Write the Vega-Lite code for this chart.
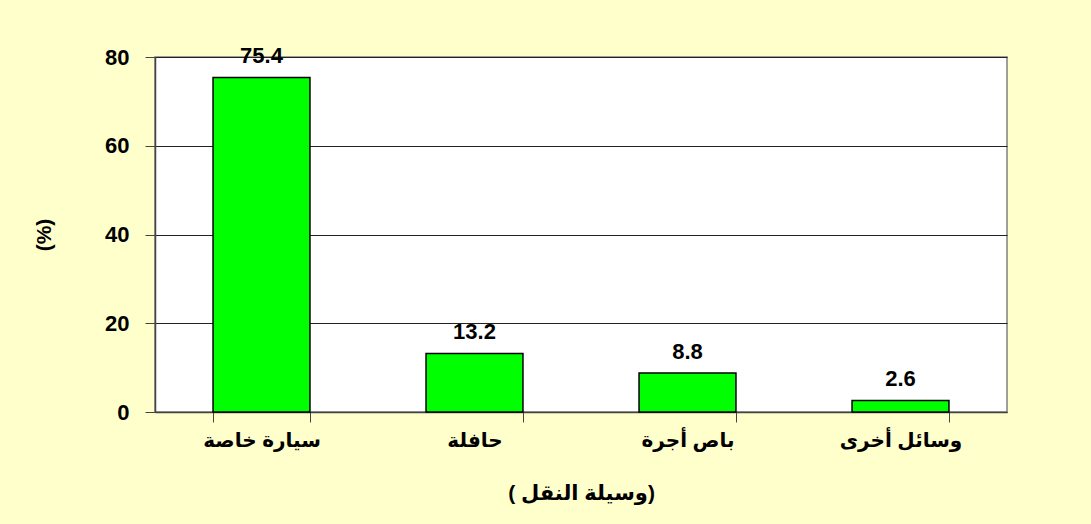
{
  "$schema": "https://vega.github.io/schema/vega-lite/v6.json",
  "width": 852,
  "height": 355,
  "autosize": "none",
  "padding": {"left": 155, "top": 57, "right": 84, "bottom": 112},
  "background": "#FFFFCC",
  "config": {
    "view": {"fill": "white", "stroke": "#808080", "strokeWidth": 1.5},
    "font": "Liberation Sans, DejaVu Sans"
  },
  "data": {
    "values": [
      {"mode": "سيارة خاصة", "pct": 75.4},
      {"mode": "حافلة", "pct": 13.2},
      {"mode": "باص أجرة", "pct": 8.8},
      {"mode": "وسائل أخرى", "pct": 2.6}
    ]
  },
  "encoding": {
    "x": {
      "field": "mode",
      "type": "nominal",
      "sort": null,
      "scale": {"paddingInner": 0.545, "paddingOuter": 0.2725},
      "axis": {
        "title": "( وسيلة النقل)",
        "titleFontSize": 21,
        "titleFontWeight": "bold",
        "titleColor": "black",
        "titlePadding": 32,
        "labelAngle": 0,
        "labelFontSize": 20,
        "labelFontWeight": "bold",
        "labelColor": "black",
        "labelPadding": 8,
        "tickBand": "extent",
        "tickSize": 10,
        "tickColor": "#444444",
        "domainColor": "#444444",
        "domainWidth": 1.5,
        "grid": false
      }
    },
    "y": {
      "field": "pct",
      "type": "quantitative",
      "scale": {"domain": [0, 80]},
      "axis": {
        "title": "(%)",
        "titleFontSize": 21,
        "titleFontWeight": "bold",
        "titleColor": "black",
        "titlePadding": 50,
        "values": [0, 20, 40, 60, 80],
        "labelFontSize": 22,
        "labelFontWeight": "bold",
        "labelColor": "black",
        "labelPadding": 16,
        "tickSize": 10,
        "tickColor": "#444444",
        "domainColor": "#444444",
        "domainWidth": 1.5,
        "grid": true,
        "gridColor": "#222222",
        "gridWidth": 1
      }
    }
  },
  "layer": [
    {
      "mark": {"type": "bar", "color": "#00FF00", "stroke": "black", "strokeWidth": 1.5}
    },
    {
      "mark": {
        "type": "text",
        "baseline": "alphabetic",
        "dy": -14,
        "fontSize": 22,
        "fontWeight": "bold",
        "color": "black"
      },
      "encoding": {"text": {"field": "pct", "type": "quantitative", "format": ".1f"}}
    }
  ]
}
